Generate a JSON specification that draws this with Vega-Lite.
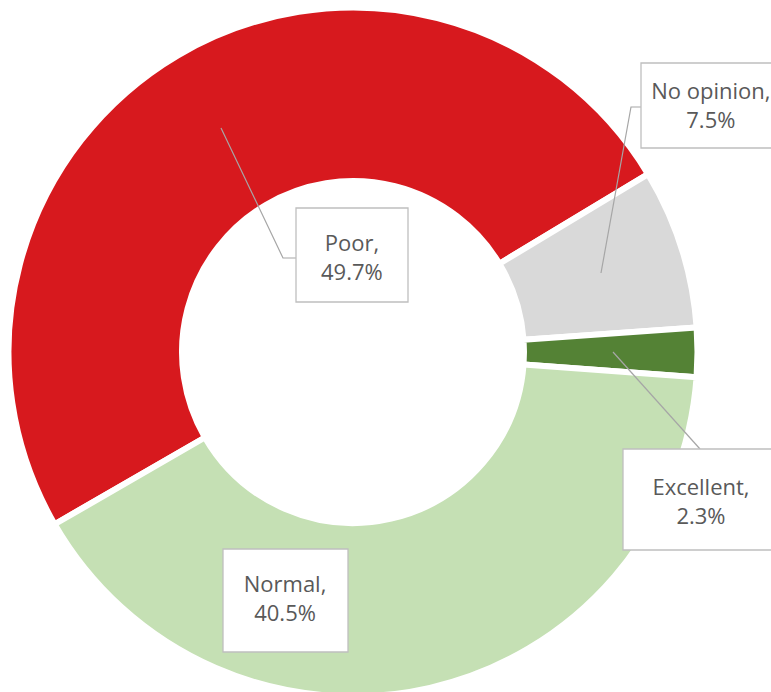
{
  "$schema": "https://vega.github.io/schema/vega-lite/v6.json",
  "width": 706,
  "height": 704,
  "autosize": {"type": "none"},
  "padding": {"left": 0, "top": 0, "right": 65, "bottom": 0},
  "background": "white",
  "config": {"view": {"stroke": null}},
  "data": {
    "values": [
      {"category": "Poor", "share": 49.7},
      {"category": "No opinion", "share": 7.5},
      {"category": "Excellent", "share": 2.3},
      {"category": "Normal", "share": 40.5}
    ]
  },
  "transform": [
    {"window": [{"op": "row_number", "as": "idx"}]},
    {"calculate": "[datum.category + ',', format(datum.share, '.1f') + '%']", "as": "label"}
  ],
  "layer": [
    {
      "mark": {"type": "arc", "outerRadius": 344.5, "innerRadius": 171, "stroke": "white", "strokeWidth": 6},
      "encoding": {
        "theta": {"field": "share", "type": "quantitative", "stack": true, "scale": {"range": [4.18879, 10.47198]}},
        "color": {
          "field": "category", "type": "nominal", "legend": null,
          "scale": {"domain": ["Poor", "No opinion", "Excellent", "Normal"], "range": ["#D7191E", "#D9D9D9", "#548235", "#C5E0B4"]}
        },
        "order": {"field": "idx", "type": "quantitative"}
      }
    },
    {
      "transform": [{"filter": "datum.category !== 'Normal'"}],
      "mark": {"type": "point", "filled": false, "stroke": "#A6A6A6", "strokeWidth": 1.2, "opacity": 1},
      "encoding": {
        "shape": {
          "field": "category", "type": "nominal", "legend": null,
          "scale": {
            "domain": ["Poor", "No opinion", "Excellent"],
            "range": ["M-132,-224L-70,-94L-57,-94", "M248,-79L278,-245L288,-245", "M260,0L347,97"]
          }
        },
        "size": {"value": 4}
      }
    },
    {
      "mark": {"type": "point", "filled": true, "fill": "white", "stroke": "#BFBFBF", "strokeWidth": 1.3, "opacity": 1},
      "encoding": {
        "shape": {
          "field": "category", "type": "nominal", "legend": null,
          "scale": {
            "domain": ["Poor", "No opinion", "Excellent", "Normal"],
            "range": ["M-57,-144H55V-50H-57Z", "M288,-289H426V-204H288Z", "M270,97H426V198H270Z", "M-130,197H-5V300H-130Z"]
          }
        },
        "size": {"value": 4}
      }
    },
    {
      "mark": {
        "type": "text", "font": "Open Sans", "fontSize": 22, "lineHeight": 28.5, "color": "#595959",
        "align": "center", "baseline": "middle",
        "dx": {"expr": "datum.category === 'Poor' ? 131 : datum.category === 'No opinion' ? 110 : datum.category === 'Excellent' ? 88 : -126"},
        "dy": {"expr": "datum.category === 'Poor' ? 116 : datum.category === 'No opinion' ? -181 : datum.category === 'Excellent' ? 136 : -20"}
      },
      "encoding": {
        "theta": {"field": "share", "type": "quantitative", "stack": true},
        "radius": {"value": 260},
        "text": {"field": "label"},
        "detail": {"field": "category", "type": "nominal"},
        "order": {"field": "idx", "type": "quantitative"}
      }
    }
  ],
  "resolve": {"scale": {"shape": "independent"}}
}
